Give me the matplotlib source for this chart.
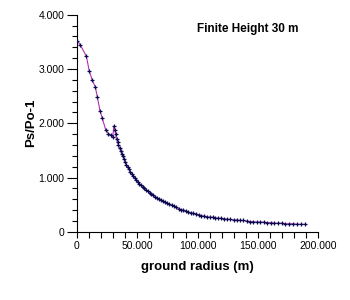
import matplotlib
matplotlib.use('Agg')
import matplotlib.pyplot as plt
from matplotlib.ticker import MultipleLocator, FuncFormatter

plt.rcParams['font.family'] = ['Liberation Sans', 'DejaVu Sans']

# ground radius (m) and Ps/Po-1
radius = [0.3, 2.5, 7.7, 10.2, 12.7, 15.2, 16.9, 19.1, 21.0, 23.8, 26.0, 28.2, 29.6,
          30.6, 31.3, 32.0, 32.8, 33.6, 34.4, 35.3, 36.2, 37.1, 38.0, 39.0, 40.0, 41.0,
          42.1, 43.2, 44.3, 45.5, 46.7, 47.9, 49.1, 50.4, 51.7, 53.0, 54.4, 55.8, 57.2,
          58.7, 60.2, 61.7, 63.2, 64.8, 66.4, 68.0, 69.7, 71.4, 73.1, 74.9, 76.7, 78.5,
          80.4, 82.3, 84.2, 86.2, 88.2, 90.2, 92.3, 94.4, 96.5, 98.7, 100.9, 103.1,
          105.4, 107.7, 110.0, 112.4, 114.8, 117.2, 119.7, 122.2, 124.7, 127.3, 129.9,
          132.5, 135.2, 137.9, 140.6, 143.4, 146.2, 149.0, 151.9, 154.8, 157.7, 160.7,
          163.7, 166.7, 169.8, 172.9, 176.0, 179.2, 182.4, 185.6, 188.8]
pressure = [3.52, 3.45, 3.24, 2.96, 2.79, 2.67, 2.48, 2.23, 2.09, 1.88, 1.81, 1.78, 1.75,
            1.95, 1.88, 1.80, 1.72, 1.65, 1.60, 1.54, 1.49, 1.44, 1.39, 1.34, 1.29, 1.24,
            1.19, 1.15, 1.11, 1.07, 1.03, 0.99, 0.96, 0.92, 0.89, 0.86, 0.83, 0.80, 0.77,
            0.75, 0.72, 0.70, 0.68, 0.65, 0.63, 0.61, 0.59, 0.57, 0.55, 0.53, 0.51, 0.49,
            0.47, 0.45, 0.43, 0.41, 0.40, 0.38, 0.37, 0.35, 0.34, 0.33, 0.31, 0.30,
            0.29, 0.28, 0.27, 0.27, 0.26, 0.25, 0.25, 0.24, 0.23, 0.23, 0.22,
            0.22, 0.21, 0.21, 0.20, 0.19, 0.19, 0.18, 0.18, 0.18, 0.17, 0.17,
            0.16, 0.16, 0.16, 0.15, 0.15, 0.15, 0.14, 0.14, 0.14]

title = 'Finite Height 30 m'


def fmt(v, pos):
    return '0' if abs(v) < 1e-9 else '%.3f' % v


fig = plt.figure(figsize=(3.5, 3.0), dpi=100)
ax = fig.add_axes([0.22, 0.227, 0.689, 0.724])

ax.plot(radius, pressure, color='#b030b0', lw=0.8, zorder=2)
ax.plot(radius, pressure, ls='none', marker='+', ms=3.5, mew=0.9, color='#0a0a50', zorder=3)

ax.set_xlim(0, 200)
ax.set_ylim(0, 4)
ax.spines['top'].set_visible(False)
ax.spines['right'].set_visible(False)
ax.xaxis.set_major_locator(MultipleLocator(50))
ax.xaxis.set_minor_locator(MultipleLocator(10))
ax.yaxis.set_major_locator(MultipleLocator(1))
ax.yaxis.set_minor_locator(MultipleLocator(0.2))
ax.xaxis.set_major_formatter(FuncFormatter(fmt))
ax.yaxis.set_major_formatter(FuncFormatter(fmt))
ax.tick_params(axis='y', which='major', length=7, width=0.8, labelsize=7.5, pad=2)
ax.tick_params(axis='y', which='minor', length=3.6, width=0.8)
ax.tick_params(axis='x', which='major', length=4.5, width=0.8, labelsize=7.5, pad=2)
ax.tick_params(axis='x', which='minor', length=4, width=0.8)
for s in ax.spines.values():
    s.set_linewidth(0.8)

ax.set_xlabel('ground radius (m)', fontsize=9.5, fontweight='bold', labelpad=7)
ax.set_ylabel('Ps/Po-1', fontsize=9.5, fontweight='bold', labelpad=1)
fig.text(0.562, 0.893, title, fontsize=8.5, fontweight='bold')

fig.savefig('out.png', dpi=100)
